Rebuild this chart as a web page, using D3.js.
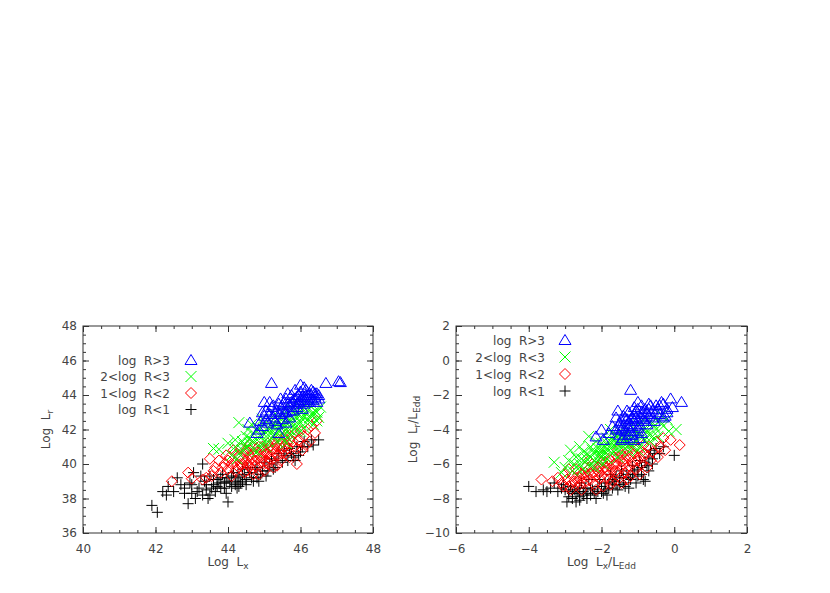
<!DOCTYPE html>
<html>
<head>
<meta charset="utf-8">
<script src="https://cdn.jsdelivr.net/npm/d3@7"></script>
<style>
body{margin:0;background:#fff;}
svg text{font-family:"DejaVu Sans",sans-serif;fill:#444;font-size:12px;}
</style>
</head>
<body>
<svg id="chart" width="830" height="593"></svg>
<script>
// ---- data ----
const legendLabels = ["log  R>3", "2<log  R<3", "1<log  R<2", "log  R<1"];
const classColors  = ["#0000ff", "#00ff00", "#ff0000", "#000000"];
const classShapes  = ["triangle", "cross", "diamond", "plus"];

const xTicksLx   = [40, 42, 44, 46, 48];
const yTicksLr   = [36, 38, 40, 42, 44, 46, 48];
const xTicksEdd  = [-6, -4, -2, 0, 2];
const yTicksEdd  = [-10, -8, -6, -4, -2, 0, 2];

// left panel: [log Lx, log Lr]
const lxBlue = [[45.2,44.7],[46.0,44.6],[46.1,44.45],[46.7,44.7],[47.05,44.8],[47.1,44.75],
  [44.6,42.4],[44.8,41.8],[44.9,42.5],[45.0,42.8],[45.05,43.1],[45.1,42.4],[45.2,43.3],[45.25,42.7],
  [45.3,43.0],[45.35,42.3],[45.4,41.8],[45.4,43.5],[45.5,43.2],[45.5,42.6],[45.6,43.8],[45.6,43.0],
  [45.7,43.4],[45.7,42.7],[45.75,44.0],[45.8,43.6],[45.8,43.1],[45.9,43.9],[45.9,43.3],[46.0,44.2],
  [46.0,43.7],[46.05,43.2],[46.1,43.9],[46.15,44.3],[46.2,43.6],[46.25,44.1],[46.3,43.8],[46.35,44.2],
  [46.4,43.9],[46.45,44.1],[46.5,43.8],[46.2,44.0],[45.65,44.1],[45.85,44.3],[45.95,44.0],[45.45,43.8],
  [45.3,42.5],[45.15,42.9],[44.95,43.0],[45.55,43.6],[46.1,43.5],[45.6,42.4],[44.85,42.0],[45.0,43.6],
  [46.3,44.3],[45.5,43.4],[45.55,43.0],[45.65,43.5],[45.7,43.1],[45.75,43.6],[45.8,43.3],[45.85,43.8],
  [45.9,43.5],[45.95,43.6],[46.05,43.9],[46.1,43.7],[46.15,44.0],[46.2,43.8],[46.25,43.6],[46.3,44.0],
  [46.35,43.7],[46.4,44.1],[45.45,42.9],[45.35,43.1],[45.25,43.4],[45.15,43.6],[45.05,42.6],[44.95,42.2],
  [46.5,44.0],[46.45,43.6]];
const lxGreen = [[43.6,40.9],[43.75,40.85],[44.0,41.2],[44.2,41.0],[44.3,40.6],[44.4,41.3],[44.5,40.9],
  [44.5,41.6],[44.6,41.2],[44.7,41.8],[44.7,40.8],[44.8,41.4],[44.85,42.1],[44.9,41.0],[45.0,41.7],
  [45.0,42.3],[45.1,41.3],[45.15,42.0],[45.2,42.5],[45.25,41.6],[45.3,42.2],[45.4,41.9],[45.4,42.7],
  [45.5,41.5],[45.5,42.3],[45.6,42.0],[45.6,42.8],[45.7,41.7],[45.7,42.5],[45.8,42.2],[45.8,43.0],
  [45.9,41.9],[45.9,42.7],[46.0,42.4],[46.0,43.1],[46.1,42.1],[46.1,42.8],[46.2,42.5],[46.2,43.3],
  [46.3,42.9],[46.35,42.3],[46.4,43.1],[46.5,42.7],[46.55,43.3],[46.3,43.5],[44.1,40.5],[44.3,42.4],
  [44.55,42.0],[44.65,42.3],[44.95,42.6],[45.3,42.9],[45.05,41.0],[45.35,41.3],[45.65,41.5],[45.95,43.4],
  [46.45,42.5],[44.25,40.3],[44.8,40.7],[45.75,43.2],[45.55,43.1],[44.6,41.5],[44.7,41.3],[44.8,41.9],
  [44.9,41.6],[45.0,41.3],[45.05,42.0],[45.1,41.7],[45.2,42.2],[45.25,41.9],[45.3,41.6],[45.35,42.4],
  [45.45,42.1],[45.5,41.8],[45.55,42.5],[45.65,42.3],[45.7,42.0],[45.75,42.7],[45.85,42.5],[45.9,42.2],
  [45.95,42.9],[46.05,42.6],[46.15,43.0],[46.25,42.7],[46.35,42.9],[44.4,40.8],[44.2,41.4],[44.45,41.1],
  [46.45,43.0],[46.0,41.9],[45.6,41.2]];
const lxRed = [[42.45,39.0],[42.9,39.5],[43.0,39.15],[43.3,39.1],[43.5,40.3],[43.65,39.8],[43.8,39.5],
  [43.9,40.0],[44.0,39.7],[44.05,40.4],[44.1,39.3],[44.2,40.1],[44.25,40.6],[44.3,39.8],[44.4,40.3],
  [44.45,39.5],[44.5,40.8],[44.55,40.0],[44.6,40.5],[44.65,39.7],[44.7,41.0],[44.75,40.2],[44.8,40.7],
  [44.85,39.4],[44.9,40.4],[44.95,41.0],[45.0,40.0],[45.05,40.6],[45.1,41.2],[45.15,40.3],[45.2,40.8],
  [45.25,39.8],[45.3,41.1],[45.35,40.5],[45.4,41.4],[45.45,40.2],[45.5,40.9],[45.55,41.5],[45.6,40.6],
  [45.65,41.2],[45.7,40.4],[45.75,41.6],[45.8,41.0],[45.85,41.8],[45.9,40.9],[45.95,41.4],[46.0,41.9],
  [46.05,40.8],[46.1,41.6],[46.2,42.0],[46.25,41.3],[46.3,42.2],[46.45,42.5],[46.4,41.8],[44.15,40.8],
  [43.95,40.5],[44.35,40.9],[44.6,41.1],[44.9,40.1],[45.25,40.9],[45.6,41.7],[45.9,40.0],[46.15,41.1],
  [43.55,39.3],[43.75,40.2],[44.7,39.4],[45.0,39.6],[45.35,39.9],[44.1,40.0],[44.2,39.6],[44.3,40.4],
  [44.35,40.0],[44.45,40.6],[44.5,40.2],[44.55,39.9],[44.6,40.8],[44.65,40.3],[44.7,40.6],[44.75,39.9],
  [44.8,40.4],[44.85,41.0],[44.9,40.7],[44.95,40.3],[45.0,40.8],[45.05,40.2],[45.1,40.6],[45.15,41.0],
  [45.2,40.5],[45.25,41.3],[45.3,40.7],[45.35,41.0],[45.4,40.5],[45.45,41.2],[45.5,40.6],[45.55,41.0],
  [45.65,40.9],[45.7,41.4],[45.8,41.3],[44.0,40.2],[43.85,39.8],[44.25,39.9],[44.4,40.0],[44.5,39.6],
  [44.65,40.0],[43.6,39.6],[43.4,39.2],[45.1,40.0],[45.5,41.3]];
const lxBlack = [[41.9,37.6],[42.05,37.2],[42.2,38.4],[42.3,38.2],[42.35,38.7],[42.5,38.4],[42.6,39.2],
  [42.8,38.6],[42.9,37.7],[42.95,38.9],[43.0,38.3],[43.05,39.5],[43.1,38.0],[43.2,38.6],[43.3,38.2],
  [43.35,39.0],[43.4,38.5],[43.5,38.2],[43.5,39.3],[43.6,38.8],[43.65,38.4],[43.3,40.0],[43.7,39.1],
  [43.8,38.6],[43.85,39.4],[43.9,38.9],[43.95,38.3],[44.0,37.8],[44.0,39.2],[44.1,38.7],[44.15,39.5],
  [44.2,39.0],[44.3,39.3],[44.35,38.9],[44.4,39.7],[44.5,39.1],[44.6,39.5],[44.7,39.0],[44.8,39.8],
  [44.9,39.4],[45.0,40.1],[45.1,39.6],[45.2,40.3],[45.3,39.8],[45.4,40.6],[45.5,40.1],[45.6,40.5],
  [45.7,40.9],[45.8,40.4],[45.9,41.0],[46.0,40.7],[46.1,41.3],[46.3,41.4],[46.5,41.4],[46.2,41.0],
  [45.85,40.2],[44.25,38.6],[43.25,39.3],[42.7,38.8],[43.45,38.0],[44.55,39.8],[45.05,39.3],[44.75,39.7],
  [45.55,40.8],[46.35,41.1],[43.4,38.8],[43.55,38.6],[43.6,39.1],[43.7,38.7],[43.75,38.9],[43.8,39.2],
  [43.9,38.6],[43.95,39.0],[44.05,38.9],[44.1,39.3],[44.2,38.8],[44.25,39.2],[44.3,38.7],[44.4,39.0],
  [44.45,39.4],[44.5,38.8],[44.65,39.2],[44.8,39.2],[44.95,39.6],[45.15,40.0],[45.35,40.2],[45.65,40.2],
  [45.75,40.6],[45.95,40.5],[46.05,41.0],[43.15,38.4],[43.0,38.8],[42.8,38.3],[44.85,39.0],[45.25,39.7]];

// right panel: [log Lx/LEdd, log Lr/LEdd]
const eddBlue = [[-1.2,-1.7],[-2.0,-4.0],[-1.95,-4.6],[-2.15,-4.4],[-1.8,-4.2],[0.2,-2.4],[-0.1,-2.2],
  [-0.3,-2.5],[-0.2,-2.8],[-0.5,-2.6],[-0.7,-2.5],[-0.9,-2.6],[-1.0,-2.4],[-1.1,-2.7],[-1.3,-2.9],
  [-1.4,-3.2],[-1.5,-3.6],[-1.6,-3.3],[-1.45,-4.0],[-1.3,-3.7],[-1.2,-3.4],[-1.1,-3.1],[-1.0,-3.5],
  [-0.9,-3.0],[-0.8,-2.8],[-0.7,-3.2],[-0.6,-2.9],[-0.4,-3.1],[-0.3,-3.3],[-0.2,-3.0],[-1.5,-4.3],
  [-1.3,-4.5],[-1.2,-4.1],[-1.0,-3.9],[-0.9,-4.2],[-1.35,-3.3],[-1.05,-2.9],[-0.85,-3.4],[-1.55,-2.9],
  [-1.7,-3.8],[-0.55,-3.5],[-1.15,-3.8],[-0.95,-4.5],[-0.65,-2.6],[-0.45,-2.8],[-0.05,-2.7],[-1.25,-3.0],
  [-0.75,-3.7],[-1.45,-4.6],[-1.6,-4.0],[-0.35,-2.4],[-1.0,-2.8],[-1.45,-3.5],[-1.4,-3.8],[-1.35,-4.1],
  [-1.3,-3.4],[-1.25,-3.9],[-1.2,-3.7],[-1.15,-4.3],[-1.1,-3.5],[-1.05,-3.3],[-1.0,-4.1],[-0.95,-3.7],
  [-0.9,-3.3],[-0.85,-3.0],[-0.8,-3.5],[-0.75,-3.1],[-0.7,-2.8],[-0.6,-3.3],[-0.5,-3.0],[-1.5,-3.9],
  [-1.4,-4.5],[-1.25,-4.3],[-1.1,-4.6],[-1.15,-3.3],[-0.4,-2.6],[-0.25,-3.2]];
const eddGreen = [[-3.3,-5.9],[-3.0,-6.2],[-2.9,-5.8],[-2.8,-6.4],[-2.7,-5.6],[-2.6,-6.0],[-2.5,-5.3],
  [-2.5,-6.3],[-2.4,-5.7],[-2.3,-5.0],[-2.3,-6.1],[-2.2,-5.4],[-2.1,-5.8],[-2.0,-4.8],[-2.0,-5.2],
  [-1.9,-5.6],[-1.85,-4.5],[-1.8,-5.0],[-1.7,-5.4],[-1.65,-4.3],[-1.6,-4.8],[-1.5,-5.2],[-1.5,-4.1],
  [-1.4,-4.6],[-1.3,-5.0],[-1.3,-4.0],[-1.2,-4.4],[-1.1,-4.8],[-1.0,-4.2],[-1.0,-3.7],[-0.9,-4.5],
  [-0.8,-3.9],[-0.7,-4.3],[-0.6,-3.6],[-0.5,-4.0],[-0.4,-3.5],[-0.3,-3.8],[-0.2,-3.4],[0.05,-4.0],
  [-0.15,-4.1],[-2.45,-5.9],[-2.15,-4.7],[-1.75,-4.0],[-1.55,-5.6],[-1.25,-5.3],[-0.95,-5.0],[-0.65,-4.7],
  [-0.45,-4.4],[-2.6,-5.0],[-2.85,-5.2],[-1.95,-6.0],[-2.35,-4.4],[-1.1,-3.9],[-0.85,-3.5],[-0.35,-3.2],
  [-1.6,-4.4],[-2.05,-5.5],[-2.75,-6.0],[-3.1,-6.5],[-1.35,-4.8],[-2.4,-5.4],[-2.3,-5.6],[-2.25,-5.2],
  [-2.2,-5.8],[-2.1,-5.1],[-2.05,-5.4],[-2.0,-5.6],[-1.95,-5.0],[-1.9,-5.3],[-1.85,-4.8],[-1.8,-5.2],
  [-1.75,-4.7],[-1.7,-5.0],[-1.65,-4.6],[-1.6,-5.1],[-1.55,-4.8],[-1.5,-4.5],[-1.45,-4.9],[-1.4,-4.3],
  [-1.35,-4.6],[-1.3,-4.3],[-1.25,-4.7],[-1.2,-4.9],[-1.15,-4.4],[-1.05,-4.6],[-0.95,-4.3],[-0.8,-4.6],
  [-0.75,-4.1],[-0.6,-4.4],[-0.55,-3.8],[-2.55,-5.7],[-2.65,-6.3],[-2.2,-6.2],[-1.85,-5.7],[-1.0,-5.2]];
const eddRed = [[-3.65,-6.9],[-3.2,-6.8],[-3.1,-7.1],[-2.9,-7.3],[-2.8,-6.7],[-2.75,-7.0],[-2.6,-6.5],
  [-2.6,-7.2],[-2.5,-6.8],[-2.45,-6.2],[-2.4,-7.0],[-2.3,-6.6],[-2.25,-6.0],[-2.2,-7.2],[-2.1,-6.4],
  [-2.05,-6.8],[-2.0,-5.9],[-1.95,-7.3],[-1.9,-6.2],[-1.85,-6.7],[-1.8,-5.7],[-1.75,-6.5],[-1.7,-7.0],
  [-1.65,-6.0],[-1.6,-6.4],[-1.55,-5.6],[-1.5,-6.8],[-1.45,-6.2],[-1.4,-5.8],[-1.35,-6.5],[-1.3,-5.5],
  [-1.25,-6.1],[-1.2,-6.7],[-1.15,-5.3],[-1.1,-5.9],[-1.05,-6.3],[-1.0,-5.1],[-0.95,-5.6],[-0.9,-6.0],
  [-0.85,-4.9],[-0.8,-5.4],[-0.7,-5.0],[-0.6,-5.3],[-0.5,-4.7],[-0.4,-5.0],[-0.3,-4.5],[-0.25,-5.2],
  [0.15,-4.9],[-0.1,-4.6],[-2.9,-6.3],[-3.35,-7.0],[-3.0,-6.6],[-2.7,-6.3],[-2.35,-5.8],[-1.95,-5.5],
  [-1.55,-5.2],[-2.15,-7.5],[-1.75,-7.2],[-1.3,-6.9],[-0.95,-6.6],[-0.65,-5.8],[-2.85,-7.5],[-2.55,-7.5],
  [-1.45,-7.1],[-0.75,-6.2],[-0.45,-5.6],[-1.05,-5.0],[-2.05,-6.1],[-2.7,-6.8],[-2.65,-7.0],[-2.55,-6.6],
  [-2.5,-7.1],[-2.45,-6.5],[-2.4,-6.7],[-2.35,-6.3],[-2.3,-6.9],[-2.25,-6.5],[-2.2,-6.1],[-2.15,-6.7],
  [-2.1,-6.2],[-2.05,-6.5],[-2.0,-6.7],[-1.95,-6.3],[-1.9,-5.9],[-1.85,-6.4],[-1.8,-6.1],[-1.75,-5.8],
  [-1.7,-6.3],[-1.65,-5.6],[-1.6,-6.0],[-1.55,-6.5],[-1.5,-5.8],[-1.45,-5.5],[-1.4,-6.0],[-1.35,-5.7],
  [-1.3,-6.2],[-1.2,-5.6],[-1.15,-6.0],[-1.1,-5.4],[-1.0,-5.8],[-0.9,-5.3],[-2.8,-7.1],[-2.95,-6.9],
  [-3.05,-7.3],[-2.6,-6.8],[-1.8,-6.9],[-1.25,-5.2],[-0.85,-5.6]];
const eddBlack = [[-4.0,-7.3],[-3.8,-7.6],[-3.6,-7.5],[-3.4,-7.4],[-3.2,-7.6],[-3.0,-7.5],[-2.9,-7.9],
  [-2.8,-8.0],[-2.7,-8.2],[-2.7,-7.7],[-2.6,-7.9],[-2.5,-7.6],[-2.4,-8.0],[-2.3,-7.4],[-2.2,-7.7],
  [-2.1,-7.3],[-2.0,-7.6],[-1.9,-7.1],[-1.8,-7.4],[-1.7,-6.9],[-1.6,-7.2],[-1.5,-6.8],[-1.4,-7.1],
  [-1.3,-6.6],[-1.2,-6.9],[-1.1,-6.4],[-1.0,-6.7],[-0.9,-6.2],[-0.8,-7.0],[-0.8,-5.9],[-0.7,-6.4],
  [-0.6,-5.7],[-0.5,-5.1],[-0.3,-5.0],[0.0,-5.5],[-0.4,-5.4],[-2.85,-7.3],[-2.55,-7.1],[-2.35,-6.9],
  [-2.05,-6.9],[-1.75,-6.6],[-1.45,-6.4],[-1.15,-6.1],[-0.95,-5.8],[-0.65,-5.2],[-3.3,-7.1],[-3.05,-7.2],
  [-2.95,-8.2],[-2.6,-8.1],[-1.25,-7.4],[-1.55,-7.5],[-1.85,-7.8],[-2.15,-8.0],[-0.85,-6.9],[-1.05,-7.1],
  [-0.7,-5.6],[-2.9,-7.6],[-2.8,-7.7],[-2.75,-7.5],[-2.65,-7.6],[-2.5,-7.8],[-2.45,-7.4],[-2.4,-7.7],
  [-2.3,-7.8],[-2.25,-7.5],[-2.1,-7.6],[-2.0,-7.3],[-1.95,-7.7],[-1.9,-7.5],[-1.8,-7.1],[-1.7,-7.4],
  [-1.65,-7.0],[-1.5,-7.2],[-1.4,-6.8],[-1.35,-7.3],[-1.25,-6.8],[-1.15,-6.6],[-1.0,-6.3],[-0.9,-6.6],
  [-0.75,-6.1],[-0.6,-6.0],[-3.1,-7.4],[-3.5,-7.6],[-2.6,-7.4],[-1.6,-6.7],[-0.55,-5.4]];

// ---- drawing ----
const symbolPath = {
	triangle: "M0,-5.5L6,4.5L-6,4.5Z",
	cross:    "M-5.5,-5.5L5.5,5.5M-5.5,5.5L5.5,-5.5",
	diamond:  "M0,-5.5L5.5,0L0,5.5L-5.5,0Z",
	plus:     "M-5.5,0H5.5M0,-5.5V5.5"
};

class ScatterPanel{
	constructor(svg, left, top, width, height, xDomain, yDomain){
		this.g = svg.append("g").attr("transform", `translate(${left},${top})`);
		this.width = width;
		this.height = height;
		this.x = d3.scaleLinear().domain(xDomain).range([0, width]);
		this.y = d3.scaleLinear().domain(yDomain).range([height, 0]);
		this.g_points = this.g.append("g");
		this.g_axis   = this.g.append("g");
	}

	drawAxes(xTicks, yTicks){
		let fmt = d3.format("d");
		let xMinor = d3.range(this.x.domain()[0], this.x.domain()[1] + 0.01, 0.5);
		let yMinor = d3.range(this.y.domain()[0], this.y.domain()[1] + 0.01, 0.5);
		let put = (axis, tx, ty) => this.g_axis.append("g")
			.attr("transform", `translate(${tx},${ty})`)
			.call(axis)
			.call(g => g.select(".domain").remove())
			.call(g => g.selectAll("line").attr("stroke", "#333"));

		put(d3.axisBottom(this.x).tickValues(xTicks).tickSizeInner(-6).tickSizeOuter(0).tickPadding(11).tickFormat(fmt), 0, this.height);
		put(d3.axisBottom(this.x).tickValues(xMinor).tickSizeInner(-3).tickSizeOuter(0).tickFormat(""), 0, this.height);
		put(d3.axisTop(this.x).tickValues(xTicks).tickSizeInner(-6).tickSizeOuter(0).tickFormat(""), 0, 0);
		put(d3.axisTop(this.x).tickValues(xMinor).tickSizeInner(-3).tickSizeOuter(0).tickFormat(""), 0, 0);
		put(d3.axisLeft(this.y).tickValues(yTicks).tickSizeInner(-6).tickSizeOuter(0).tickPadding(6).tickFormat(fmt), 0, 0);
		put(d3.axisLeft(this.y).tickValues(yMinor).tickSizeInner(-3).tickSizeOuter(0).tickFormat(""), 0, 0);
		put(d3.axisRight(this.y).tickValues(yTicks).tickSizeInner(-6).tickSizeOuter(0).tickFormat(""), this.width, 0);
		put(d3.axisRight(this.y).tickValues(yMinor).tickSizeInner(-3).tickSizeOuter(0).tickFormat(""), this.width, 0);

		// drop the empty label nodes of tick-only axes
		this.g_axis.selectAll(".tick text").filter(function(){ return this.textContent === ""; }).remove();
		this.g_axis.selectAll(".tick text")
			.attr("font-family", null).attr("font-size", null).attr("fill", null);

		this.g_axis.append("rect")
			.attr("width", this.width).attr("height", this.height)
			.attr("fill", "none").attr("stroke", "#333").attr("stroke-width", 1);
	}

	drawSeries(data, shape, color){
		this.g_points.append("g")
			.selectAll("path")
			.data(data)
			.join("path")
			.attr("d", symbolPath[shape])
			.attr("transform", d => `translate(${this.x(d[0])},${this.y(d[1])})`)
			.attr("fill", "none")
			.attr("stroke", color)
			.attr("stroke-width", 1);
	}

	drawLegend(textRight, symX, rowTop, rowStep){
		let rows = this.g.append("g").selectAll("g")
			.data(legendLabels)
			.join("g")
			.attr("transform", (d, i) => `translate(0,${rowTop + i * rowStep})`);
		rows.append("text")
			.attr("x", textRight).attr("y", 4.5)
			.attr("text-anchor", "end")
			.style("white-space", "pre")
			.text(d => d);
		rows.append("path")
			.attr("transform", `translate(${symX},0)`)
			.attr("d", (d, i) => symbolPath[classShapes[i]])
			.attr("fill", "none")
			.attr("stroke", (d, i) => classColors[i]);
	}

	xLabel(parts){
		let t = this.g.append("text")
			.attr("x", this.width / 2).attr("y", this.height + 33)
			.attr("text-anchor", "middle");
		addParts(t, parts);
	}

	yLabel(parts, xOffset){
		let t = this.g.append("text")
			.attr("transform", `translate(${xOffset},${this.height / 2}) rotate(-90)`)
			.attr("text-anchor", "middle");
		addParts(t, parts);
	}
}

function addParts(t, parts){
	let shift = 0;
	parts.forEach(p => {
		let want = p.sub ? 3 : 0;
		t.append("tspan")
			.attr("dy", want - shift)
			.attr("font-size", p.sub ? "9px" : null)
			.style("white-space", "pre")
			.text(p.text);
		shift = want;
	});
}

const svg = d3.select("#chart");

let left = new ScatterPanel(svg, 83, 326, 290, 207, [40, 48], [36, 48]);
left.drawAxes(xTicksLx, yTicksLr);
left.drawSeries(lxBlack, "plus", classColors[3]);
left.drawSeries(lxRed, "diamond", classColors[2]);
left.drawSeries(lxGreen, "cross", classColors[1]);
left.drawSeries(lxBlue, "triangle", classColors[0]);
left.drawLegend(87, 108, 34, 16.5);
left.xLabel([{text:"Log  L"}, {text:"x", sub:true}]);
left.yLabel([{text:"Log  L"}, {text:"r", sub:true}], -33);

let right = new ScatterPanel(svg, 456, 326, 291, 207, [-6, 2], [-10, 2]);
right.drawAxes(xTicksEdd, yTicksEdd);
right.drawSeries(eddBlack, "plus", classColors[3]);
right.drawSeries(eddRed, "diamond", classColors[2]);
right.drawSeries(eddGreen, "cross", classColors[1]);
right.drawSeries(eddBlue, "triangle", classColors[0]);
right.drawLegend(89, 109, 14, 17);
right.xLabel([{text:"Log  L"}, {text:"x", sub:true}, {text:"/L"}, {text:"Edd", sub:true}]);
right.yLabel([{text:"Log  L"}, {text:"r", sub:true}, {text:"/L"}, {text:"Edd", sub:true}], -39);
</script>
</body>
</html>
